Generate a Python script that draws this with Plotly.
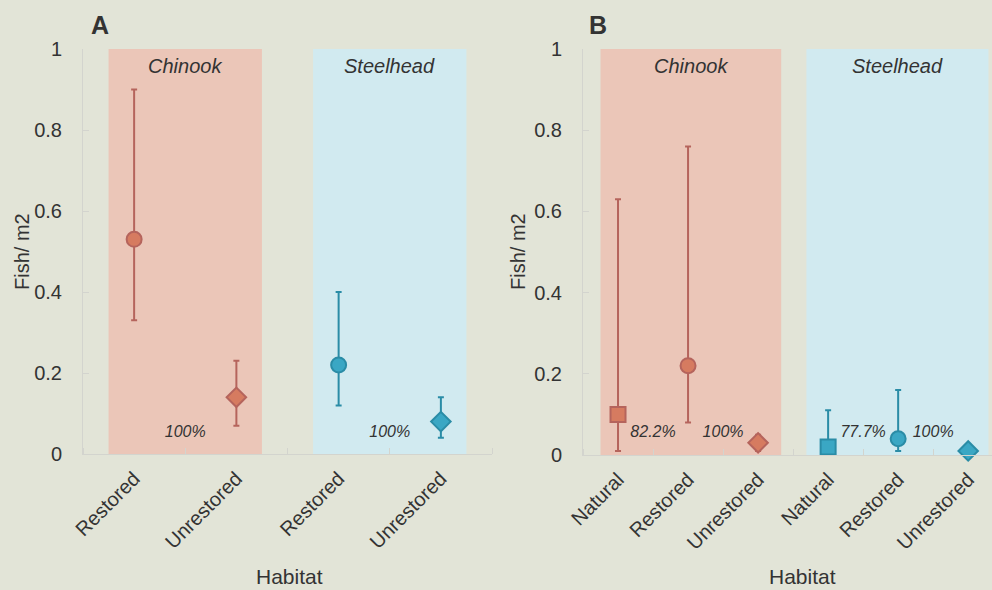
import plotly.graph_objects as go

# ---------------- data ----------------
species = ["Chinook", "Steelhead"]

# Panel A
habitat_a = ["Restored", "Unrestored"]
a_chinook_mean = [0.53, 0.14]
a_chinook_lo = [0.33, 0.07]
a_chinook_hi = [0.90, 0.23]
a_steel_mean = [0.22, 0.08]
a_steel_lo = [0.12, 0.04]
a_steel_hi = [0.40, 0.14]
a_pct = ["100%", "100%"]

# Panel B
habitat_b = ["Natural", "Restored", "Unrestored"]
b_chinook_mean = [0.10, 0.22, 0.03]
b_chinook_lo = [0.01, 0.08, 0.01]
b_chinook_hi = [0.63, 0.76, 0.05]
b_steel_mean = [0.02, 0.04, 0.01]
b_steel_lo = [0.00, 0.01, 0.01]
b_steel_hi = [0.11, 0.16, 0.01]
b_pct = ["82.2%", "100%", "77.7%", "100%"]

# ---------------- styles ----------------
BG = "#e2e4d7"
FONT = "Liberation Sans, Arial, sans-serif"
TXT = "#333333"
CH_FILL, CH_LINE, CH_BAND = "#d67b60", "#b5645c", "#ebc6b8"
ST_FILL, ST_LINE, ST_BAND = "#3aa7c4", "#2a8ca6", "#d1eaf0"
AX = "#d3d4ce"
symbol_for = {"Natural": "square", "Restored": "circle", "Unrestored": "diamond"}

fig = go.Figure()


def add_series(xa, ya, habitats, offset, mean, lo, hi, fill, line):
    xs = [offset + i for i in range(len(habitats))]
    fig.add_trace(go.Scatter(
        x=xs, y=mean, mode="markers", xaxis=xa, yaxis=ya,
        marker=dict(symbol=[symbol_for[h] for h in habitats], size=15,
                    color=fill, line=dict(color=line, width=2)),
        error_y=dict(type="data", symmetric=False,
                     array=[h - m for h, m in zip(hi, mean)],
                     arrayminus=[m - l for m, l in zip(mean, lo)],
                     color=line, thickness=2, width=3),
        cliponaxis=False, showlegend=False, hoverinfo="skip"))


add_series("x", "y", habitat_a, 0, a_chinook_mean, a_chinook_lo, a_chinook_hi, CH_FILL, CH_LINE)
add_series("x", "y", habitat_a, len(habitat_a), a_steel_mean, a_steel_lo, a_steel_hi, ST_FILL, ST_LINE)
add_series("x2", "y2", habitat_b, 0, b_chinook_mean, b_chinook_lo, b_chinook_hi, CH_FILL, CH_LINE)
add_series("x2", "y2", habitat_b, len(habitat_b), b_steel_mean, b_steel_lo, b_steel_hi, ST_FILL, ST_LINE)

# percentage labels at category boundaries
PCT_FONT = dict(family=FONT, size=16, color=TXT, style="italic")
pa_x = [0.5, 2.5]
fig.add_trace(go.Scatter(x=pa_x, y=[0.053] * len(a_pct), text=a_pct, mode="text",
                         textfont=PCT_FONT, cliponaxis=False,
                         xaxis="x", yaxis="y", showlegend=False, hoverinfo="skip"))
pb_x = [0.5, 1.5, 3.5, 4.5]
fig.add_trace(go.Scatter(x=pb_x, y=[0.053] * len(b_pct), text=b_pct, mode="text",
                         textfont=PCT_FONT, cliponaxis=False,
                         xaxis="x2", yaxis="y2", showlegend=False, hoverinfo="skip"))

# species bands
bands = [
    ("x", "y", -0.25, 1.25, CH_BAND, species[0]),
    ("x", "y", 1.75, 3.25, ST_BAND, species[1]),
    ("x2", "y2", -0.25, 2.33, CH_BAND, species[0]),
    ("x2", "y2", 2.69, 5.29, ST_BAND, species[1]),
]
for xr, yr, x0, x1, col, name in bands:
    fig.add_shape(type="rect", xref=xr, yref=yr, x0=x0, x1=x1, y0=0, y1=1,
                  fillcolor=col, line=dict(width=0), layer="below")
    fig.add_annotation(xref=xr, yref=yr, x=(x0 + x1) / 2, y=0.958, text=name,
                       showarrow=False, font=dict(family=FONT, size=20, color=TXT, style="italic"))

common_x = dict(showgrid=False, zeroline=False, showline=True, linecolor=AX, linewidth=1,
                ticks="", tickangle=-45, tickfont=dict(family=FONT, size=20, color=TXT),
                automargin=False, ticklabelstandoff=4,
                minor=dict(ticks="inside", ticklen=6, tickcolor=AX, tick0=0.5, dtick=1, showgrid=False))
common_y = dict(range=[0, 1], showgrid=False, zeroline=False, showline=True, linecolor=AX,
                linewidth=1, ticks="inside", ticklen=6, tickcolor=AX, dtick=0.2,
                automargin=False,
                tickfont=dict(family=FONT, size=20, color=TXT), ticklabelstandoff=16)

fig.update_layout(
    width=992, height=590, paper_bgcolor=BG, plot_bgcolor=BG,
    margin=dict(l=0, r=0, t=0, b=0),
    xaxis=dict(domain=[83 / 992, 492 / 992], range=[-0.5, 3.5],
               tickvals=list(range(len(habitat_a) * 2)), ticktext=habitat_a * 2,
               anchor="y", **common_x),
    yaxis=dict(domain=[1 - 454 / 590, 1 - 49 / 590], anchor="x", **common_y),
    xaxis2=dict(domain=[583 / 992, 1.0], range=[-0.5, 5.34],
                tickvals=list(range(len(habitat_b) * 2)), ticktext=habitat_b * 2,
                anchor="y2", **common_x),
    yaxis2=dict(domain=[1 - 455 / 590, 1 - 49 / 590], anchor="x2", **common_y),
)

# titles and axis titles
for x, y, t, kw in [
    (100 / 992, 1 - 25 / 590, "<b>A</b>", dict(size=25)),
    (598 / 992, 1 - 25 / 590, "<b>B</b>", dict(size=25)),
    (289 / 992, 1 - 576 / 590, "Habitat", dict(size=21)),
    (802 / 992, 1 - 576 / 590, "Habitat", dict(size=21)),
]:
    fig.add_annotation(xref="paper", yref="paper", x=x, y=y, text=t, showarrow=False,
                       xanchor="center", yanchor="middle", font=dict(family=FONT, color=TXT, **kw))
for x in [22 / 992, 518 / 992]:
    fig.add_annotation(xref="paper", yref="paper", x=x, y=1 - 252 / 590, text="Fish/ m2",
                       showarrow=False, textangle=-90, xanchor="center", yanchor="middle",
                       font=dict(family=FONT, color=TXT, size=20))

fig.write_html("out.html", config={"displayModeBar": False},
               post_script="document.body.style.margin='0';")
